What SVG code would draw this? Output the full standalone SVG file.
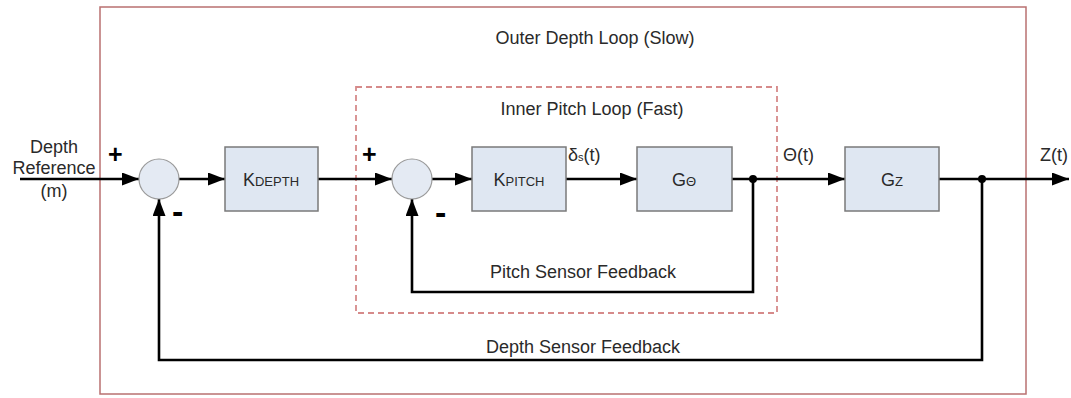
<svg xmlns="http://www.w3.org/2000/svg" width="1071" height="398" viewBox="0 0 1071 398">
<defs>
<marker id="ah" markerWidth="17" markerHeight="13" refX="17" refY="6.5" orient="auto" markerUnits="userSpaceOnUse">
<path d="M0,0 L17,6.5 L0,13 Z" fill="#000"/>
</marker>
<style>
.t{font-family:"Liberation Sans",Arial,sans-serif;font-size:18px;fill:#2a2a2a;}
.c{text-anchor:middle;}
.b{font-weight:bold;fill:#000;}
.p{font-size:25px;}
.m{font-size:34px;}
.box{fill:#dfe7f2;stroke:#7a7a7a;stroke-width:1.5;}
.sum{fill:#e4eaf3;stroke:#9a9a9a;stroke-width:1.2;}
.w{fill:none;stroke:#000;stroke-width:2.6;}
</style>
</defs>
<rect width="1071" height="398" fill="#fff"/>
<g id="outer-loop">
<rect x="100" y="7" width="926" height="387" fill="none" stroke="#b97070" stroke-width="1.5"/>
<text class="t c" x="595" y="44">Outer Depth Loop (Slow)</text>
</g>
<g id="inner-loop">
<rect x="356" y="87" width="421" height="226" fill="none" stroke="#d68a8a" stroke-width="1.8" stroke-dasharray="6,4"/>
<text class="t c" x="592" y="115">Inner Pitch Loop (Fast)</text>
</g>
<g id="connectors">
<path class="w" d="M20,179 L139,179" marker-end="url(#ah)"/>
<path class="w" d="M179,179 L225,179" marker-end="url(#ah)"/>
<path class="w" d="M318,179 L392,179" marker-end="url(#ah)"/>
<path class="w" d="M432,179 L472,179" marker-end="url(#ah)"/>
<path class="w" d="M566,179 L637,179" marker-end="url(#ah)"/>
<path class="w" d="M732,179 L845,179" marker-end="url(#ah)"/>
<path class="w" d="M939,179 L1069,179" marker-end="url(#ah)"/>
<path class="w" d="M753,179 L753,292 L412,292 L412,199" marker-end="url(#ah)"/>
<path class="w" d="M982,179 L982,360 L159,360 L159,199" marker-end="url(#ah)"/>
<circle cx="753" cy="179" r="4" fill="#000"/>
<circle cx="982" cy="179" r="4" fill="#000"/>
</g>
<g id="input-label">
<text class="t c" x="54" y="153">Depth</text>
<text class="t c" x="54" y="174">Reference</text>
<text class="t c" x="54" y="197">(m)</text>
</g>
<g id="sum1">
<circle class="sum" cx="159" cy="179" r="20"/>
<text class="t b p" x="108" y="163">+</text>
<text class="t b m" x="172" y="223">-</text>
</g>
<g id="k-depth">
<rect class="box" x="225" y="147" width="93" height="64"/>
<text class="t c" x="271" y="186">K<tspan font-size="13">DEPTH</tspan></text>
</g>
<g id="sum2">
<circle class="sum" cx="412" cy="179" r="20"/>
<text class="t b p" x="362" y="163">+</text>
<text class="t b m" x="435" y="224">-</text>
</g>
<g id="k-pitch">
<rect class="box" x="472" y="147" width="94" height="64"/>
<text class="t c" x="519" y="186">K<tspan font-size="13">PITCH</tspan></text>
</g>
<g id="g-theta">
<rect class="box" x="637" y="147" width="95" height="64"/>
<text class="t c" x="684" y="186">G<tspan font-size="13">Θ</tspan></text>
</g>
<g id="g-z">
<rect class="box" x="845" y="147" width="94" height="64"/>
<text class="t c" x="892" y="186">G<tspan font-size="13">Z</tspan></text>
</g>
<g id="signal-labels">
<text class="t" x="568" y="161">δ<tspan font-size="11">s</tspan>(t)</text>
<text class="t" x="783" y="161">Θ(t)</text>
<text class="t" x="1040" y="161">Z(t)</text>
<text class="t c" x="583" y="278">Pitch Sensor Feedback</text>
<text class="t c" x="583" y="353">Depth Sensor Feedback</text>
</g>
</svg>
